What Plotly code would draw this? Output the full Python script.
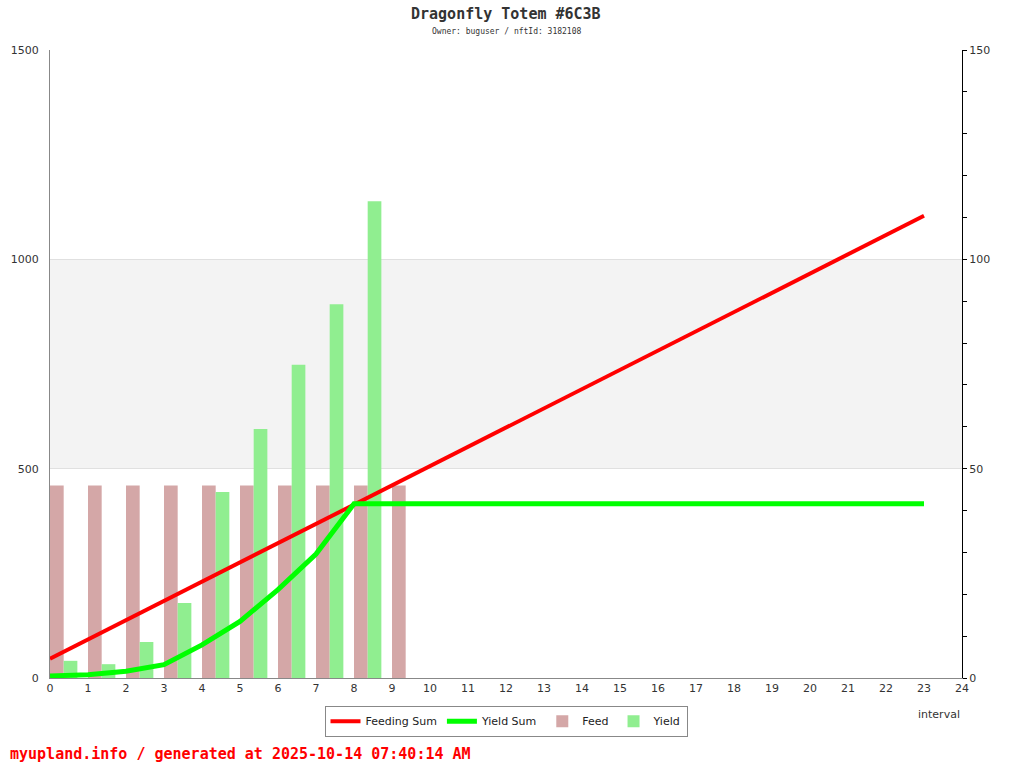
import plotly.graph_objects as go

intervals = list(range(24))
bar_intervals = list(range(10))
feed = [460, 460, 460, 460, 460, 460, 460, 460, 460, 460]
yield_vals = [41, 33, 86, 179, 444, 595, 748, 893, 1139]
feeding_sum = [46, 92, 138, 184, 230, 276, 322, 368, 414, 460, 506, 552,
               598, 644, 690, 736, 782, 828, 874, 920, 966, 1012, 1058, 1104]
yield_sum = [0.5, 0.8, 1.6, 3.2, 7.9, 13.5, 21.1, 29.6, 41.6, 41.6, 41.6, 41.6,
             41.6, 41.6, 41.6, 41.6, 41.6, 41.6, 41.6, 41.6, 41.6, 41.6, 41.6, 41.6]

PLOT_W = 912
PLOT_H = 628

fig = go.Figure()

fig.add_trace(go.Bar(
    x=bar_intervals, y=feed, name="Feed", legendrank=3,
    marker_color="#d4a7a7", marker_line_width=0,
    width=0.36, offset=0,
))
fig.add_trace(go.Bar(
    x=bar_intervals[:len(yield_vals)], y=yield_vals, name="Yield", legendrank=4,
    marker_color="#90ee90", marker_line_width=0,
    width=0.36, offset=0.36,
))
fig.add_trace(go.Scatter(
    x=intervals, y=feeding_sum, name="Feeding Sum", mode="lines", legendrank=1,
    line=dict(color="#ff0000", width=4),
))
fig.add_trace(go.Scatter(
    x=intervals, y=yield_sum, name="Yield Sum", mode="lines", yaxis="y2", legendrank=2,
    line=dict(color="#00ff00", width=5),
))

# light band between 500 and 1000
fig.add_shape(type="rect", xref="x", yref="y", x0=0, x1=24, y0=500, y1=1000,
              fillcolor="#f3f3f3", line_width=0, layer="below")

fig.update_layout(
    width=1024, height=768,
    margin=dict(l=50, r=62, t=50, b=90),
    paper_bgcolor="white", plot_bgcolor="white",
    barmode="overlay",
    showlegend=True,
    font=dict(family="DejaVu Sans", size=11, color="#333"),
    legend=dict(
        orientation="h", x=0.5, xanchor="center", y=-0.044, yanchor="top",
        bordercolor="#888", borderwidth=1, bgcolor="white",
        font=dict(size=11, color="#222"),
        itemwidth=30,
    ),
    xaxis=dict(
        range=[0, 24], tickmode="linear", tick0=0, dtick=1,
        showgrid=False, zeroline=False, automargin=False,
        showline=True, linecolor="#888", linewidth=1,
        ticks="", tickfont=dict(size=11, color="#333"),
    ),
    yaxis=dict(
        range=[0, 1500], tickvals=[0, 500, 1000, 1500],
        showgrid=True, gridcolor="#e0e0e0", zeroline=False, automargin=False,
        showline=True, linecolor="#888", linewidth=1,
        ticks="", ticklabelstandoff=8, tickfont=dict(size=11, color="#333"),
    ),
    yaxis2=dict(
        range=[0, 150], overlaying="y", side="right", automargin=False,
        tickvals=[0, 50, 100, 150],
        showgrid=False, zeroline=False,
        showline=True, linecolor="#000", linewidth=1,
        ticks="outside", ticklen=4, tickcolor="#000",
        minor=dict(ticks="outside", ticklen=4, tickcolor="#000", dtick=10),
        tickfont=dict(size=11, color="#333"),
    ),
)

fig.add_annotation(text="<b>Dragonfly Totem #6C3B</b>", xref="paper", yref="paper",
                   x=0.5, y=1 + (50 - 14) / PLOT_H, yanchor="middle", showarrow=False,
                   font=dict(family="DejaVu Sans Mono", size=15, color="#333"))
fig.add_annotation(text="Owner: buguser / nftId: 3182108", xref="paper", yref="paper",
                   x=0.5, y=1 + (50 - 31) / PLOT_H, yanchor="middle", showarrow=False,
                   font=dict(family="DejaVu Sans Mono", size=8, color="#333"))
fig.add_annotation(text="interval", xref="paper", yref="paper",
                   x=1.0, xanchor="right", y=-(714 - 678) / PLOT_H, yanchor="middle",
                   showarrow=False, font=dict(size=11, color="#333"))
fig.add_annotation(text="<b>myupland.info / generated at 2025-10-14 07:40:14 AM</b>",
                   xref="paper", yref="paper",
                   x=-42 / PLOT_W, xanchor="left",
                   y=-(754 - 678) / PLOT_H, yanchor="middle",
                   showarrow=False, font=dict(family="DejaVu Sans Mono", size=15, color="#ff0000"))

# drop the default 8px page margin so the figure fills the window exactly
fig.write_html("out.html", config={"displayModeBar": False},
               post_script="document.body.style.margin='0';")
